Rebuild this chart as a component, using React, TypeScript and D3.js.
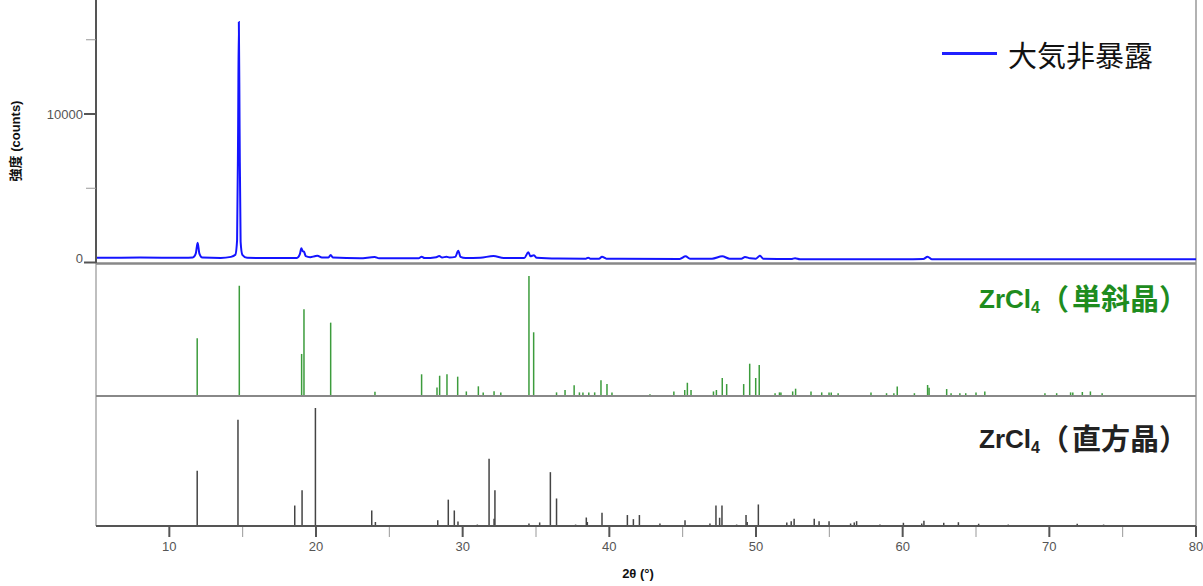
import React from 'react';
import * as d3 from 'd3';

// Measured pattern (sample not exposed to air): 2θ (°) and intensity (counts)
const measuredTheta = [
  5.0, 8.0, 11.0, 11.6, 11.8, 11.93, 12.05, 12.25, 13.5, 14.2, 14.5, 14.62, 14.69, 14.74, 14.79, 14.86,
  14.98, 15.3, 17.0, 18.7, 18.9, 19.0, 19.1, 19.18, 19.3, 19.6, 19.9, 20.1, 20.4, 20.85, 21.0, 21.15,
  23.0, 24.0, 24.3, 27.0, 27.2, 27.4, 28.2, 28.4, 28.6, 28.9, 29.1, 29.5, 29.7, 29.85, 30.2, 31.2,
  32.1, 32.8, 34.2, 34.48, 34.62, 34.86, 35.05, 36.5, 38.4, 38.56, 38.7, 39.3, 39.5, 39.8, 44.8, 45.2,
  45.5, 47.0, 47.7, 48.2, 49.0, 49.25, 49.6, 50.0, 50.27, 50.5, 52.4, 52.66, 53.0, 60.0, 61.4, 61.7,
  62.0, 66.0, 80.0,
];
const measuredCounts = [
  320, 330, 320, 340, 600, 1330, 600, 330, 310, 380, 520, 1500, 9000, 16200, 9000, 1400,
  520, 320, 300, 310, 560, 955, 760, 730, 430, 360, 420, 460, 340, 330, 505, 330,
  280, 370, 280, 290, 390, 300, 360, 440, 330, 390, 340, 380, 795, 380, 300, 320,
  440, 300, 300, 690, 420, 485, 320, 270, 260, 320, 260, 260, 390, 260, 240, 415,
  250, 250, 415, 260, 260, 370, 280, 260, 460, 250, 230, 290, 220, 215, 230, 390,
  220, 215, 215,
];

// ZrCl4 (monoclinic) reference lines: 2θ (°) and relative intensity
const monoTheta = [
  11.9, 14.77, 19.02, 19.18, 21.0, 24.02, 27.2, 28.25, 28.43, 28.93, 29.66, 30.25, 31.07, 31.4, 32.14,
  32.6, 34.52, 34.84, 36.4, 36.98, 37.6, 37.96, 38.2, 38.6, 39.0, 39.43, 39.84, 40.18, 42.77, 44.4,
  45.14, 45.32, 45.57, 47.1, 47.3, 47.7, 48.0, 49.16, 49.57, 49.98, 50.22, 51.3, 51.6, 51.7, 52.5,
  52.7, 53.75, 54.48, 54.98, 55.13, 55.6, 57.84, 58.9, 59.4, 59.63, 60.8, 61.7, 61.8, 63.0, 63.3,
  63.9, 64.3, 65.0, 65.6, 69.7, 70.5, 71.45, 71.6, 72.25, 72.8, 73.6,
];
const monoInt = [
  47.6, 91.8, 34.5, 72, 60.8, 2.8, 17.4, 6.2, 16.2, 17.4, 15.4, 3, 7.3, 2, 3.2,
  2.2, 100, 52.7, 2.2, 4.2, 8.1, 2.2, 2.2, 2.2, 2.2, 12.3, 9.2, 2.2, 0.6, 3,
  4.2, 10.3, 4.2, 3, 4.2, 14.3, 9.2, 9.2, 26.3, 14.3, 25.2, 1.5, 2.2, 2.2, 3,
  5.3, 3, 2.2, 2.2, 2.2, 1.5, 2.2, 1.5, 1.5, 7.2, 1.5, 8.4, 6, 5, 1.5,
  1.5, 1.5, 2.2, 3, 1.5, 1.5, 2.2, 2.2, 2.5, 3, 1.5,
];

// ZrCl4 (orthorhombic) reference lines
const orthoTheta = [
  11.9, 14.68, 18.55, 19.05, 19.96, 23.8, 24.05, 28.3, 29.02, 29.43, 29.68, 31.0, 31.8, 32.14, 32.2,
  34.52, 35.25, 35.98, 36.4, 37.7, 38.43, 38.5, 39.5, 41.23, 41.64, 42.05, 43.45, 45.16, 46.86, 47.27,
  47.52, 47.68, 48.68, 49.32, 49.4, 50.16, 52.1, 52.4, 52.6, 53.97, 54.3, 54.98, 56.45, 56.7, 56.86,
  58.45, 60.05, 61.3, 61.45, 62.8, 63.8, 65.18, 67.2, 71.9, 73.7,
];
const orthoInt = [
  46.6, 90, 17, 30, 100, 12.8, 3, 4.5, 22, 12.8, 3.4, 0.8, 56.8, 5.7, 30,
  1.7, 2.6, 45.4, 23, 0.8, 6.8, 3, 10.8, 8.9, 5.4, 8.9, 1.7, 4.5, 1.7, 17,
  6.6, 17, 0.8, 8.9, 3, 17.9, 2.6, 3.7, 5.7, 5.7, 3.7, 3.7, 1.7, 2.6, 3.7,
  0.8, 2.3, 1.7, 4, 2.3, 2.8, 1.5, 0.8, 1.5, 0.8,
];

const xMajorTicks = [10, 20, 30, 40, 50, 60, 70, 80];
const xMinorTicks = [15, 25, 35, 45, 55, 65, 75];
const yMajorTicks = [0, 10000];
const yMinorTicks = [5000, 15000];

const legendLabel = '大気非暴露';
const monoLabel = '単斜晶';
const orthoLabel = '直方晶';

const FONT = '"Liberation Sans", Arial, "Noto Sans CJK JP", sans-serif';
const CJK = '"Noto Sans CJK JP", sans-serif';

function PhaseLabel({ y, color, name }: { y: number; color: string; name: string }) {
  // "ZrCl4（name）" with a subscript 4, one text element
  return (
    <text x={979} y={y} fontSize={26} fontWeight="bold" fill={color}>
      ZrCl
      <tspan fontSize={16} dy={5}>4</tspan>
      <tspan fontSize={29} fontFamily={CJK} dy={-3}>（</tspan>
      <tspan fontSize={29} fontFamily={CJK} dx={3}>
        {name}）
      </tspan>
    </text>
  );
}

export default function App() {
  const x = d3.scaleLinear().domain([5, 80]).range([96, 1196]);
  const yMeas = d3.scaleLinear().domain([0, 10000]).range([262.5, 114]);
  const yMono = d3.scaleLinear().domain([0, 100]).range([395, 276]);
  const yOrtho = d3.scaleLinear().domain([0, 100]).range([525.5, 408]);

  const left = x(5);
  const right = x(80);

  const line = d3
    .line<number>()
    .x((d) => x(d))
    .y((_, i) => yMeas(measuredCounts[i]))
    .curve(d3.curveMonotoneX);

  return (
    <svg
      width={1203}
      height={586}
      style={{ position: 'absolute', left: 0, top: 0, background: '#fff' }}
      fontFamily={FONT}
    >
      {/* panel frames */}
      <line x1={right} x2={right} y1={0} y2={527} stroke="#999" strokeWidth={1.5} />
      <line x1={left} x2={left} y1={263} y2={526} stroke="#aaa" strokeWidth={1.5} />
      <line x1={left} x2={right} y1={263.5} y2={263.5} stroke="#888" strokeWidth={2.5} />
      <line x1={left} x2={right} y1={396} y2={396} stroke="#888" strokeWidth={2} />

      {/* measured pattern */}
      <path d={line(measuredTheta) ?? ''} fill="none" stroke="#1414ff" strokeWidth={2} />

      {/* monoclinic lines */}
      {monoTheta.map((t, i) => (
        <line key={'m' + i} x1={x(t)} x2={x(t)} y1={yMono(0)} y2={yMono(monoInt[i])} stroke="#3c9c3c" strokeWidth={1.5} />
      ))}

      {/* orthorhombic lines */}
      {orthoTheta.map((t, i) => (
        <line key={'o' + i} x1={x(t)} x2={x(t)} y1={yOrtho(0)} y2={yOrtho(orthoInt[i])} stroke="#444" strokeWidth={1.5} />
      ))}

      {/* y axis (top panel) */}
      <line x1={left} x2={left} y1={0} y2={263} stroke="#555" strokeWidth={2} />
      {yMinorTicks.map((v) => (
        <line key={v} x1={left - 10} x2={left} y1={yMeas(v)} y2={yMeas(v)} stroke="#999" strokeWidth={1} />
      ))}
      {yMajorTicks.map((v) => (
        <g key={v}>
          <line x1={left - 12} x2={left} y1={yMeas(v)} y2={yMeas(v)} stroke="#555" strokeWidth={2} />
          <text
            x={left - 13}
            y={v === 0 ? yMeas(v) - 4.5 : yMeas(v)}
            textAnchor="end"
            dominantBaseline="central"
            fontSize={13}
            fill="#555"
          >
            {v}
          </text>
        </g>
      ))}
      <text
        transform="translate(15,141) rotate(-90)"
        textAnchor="middle"
        dominantBaseline="central"
        fontSize={13}
        fontWeight="bold"
        fill="#111"
      >
        強度 (counts)
      </text>

      {/* x axis */}
      <line x1={left} x2={right} y1={526} y2={526} stroke="#555" strokeWidth={2} />
      {xMinorTicks.map((v) => (
        <line key={v} x1={x(v)} x2={x(v)} y1={527} y2={537} stroke="#999" strokeWidth={1} />
      ))}
      {xMajorTicks.map((v) => (
        <g key={v}>
          <line x1={x(v)} x2={x(v)} y1={526} y2={537} stroke="#555" strokeWidth={2} />
          <text x={x(v)} y={546} textAnchor="middle" dominantBaseline="central" fontSize={13} fill="#555">
            {v}
          </text>
        </g>
      ))}
      <text x={638} y={578} textAnchor="middle" fontSize={13} fontWeight="bold" fill="#111">
        2θ (°)
      </text>

      {/* legend */}
      <line x1={942} x2={997} y1={53.5} y2={53.5} stroke="#2020ff" strokeWidth={3} />
      <text x={1008} y={53.5} dominantBaseline="central" fontSize={29} fontFamily={CJK} fill="#111">
        {legendLabel}
      </text>

      {/* phase labels */}
      <PhaseLabel y={308.3} color="#1e8c1e" name={monoLabel} />
      <PhaseLabel y={447.7} color="#222" name={orthoLabel} />
    </svg>
  );
}
